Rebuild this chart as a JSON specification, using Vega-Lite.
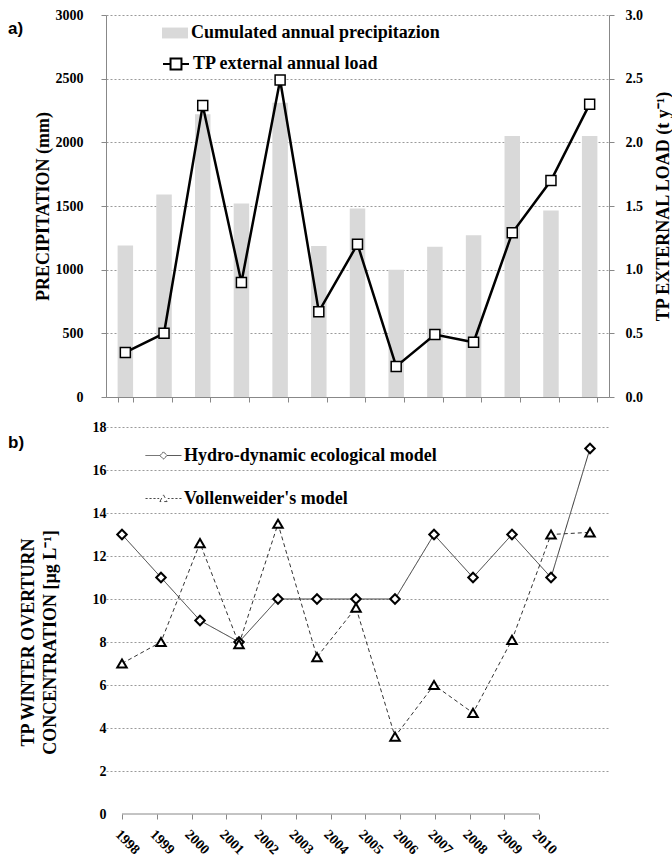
{
  "$schema": "https://vega.github.io/schema/vega-lite/v6.json",
  "padding": {"left": 8, "top": 8, "right": 0, "bottom": 0},
  "spacing": 16,
  "datasets": {
    "annual": [
      {"year": "1998", "precip": 1190, "load": 0.35},
      {"year": "1999", "precip": 1590, "load": 0.50},
      {"year": "2000", "precip": 2220, "load": 2.29},
      {"year": "2001", "precip": 1520, "load": 0.90},
      {"year": "2002", "precip": 2310, "load": 2.49},
      {"year": "2003", "precip": 1185, "load": 0.67},
      {"year": "2004", "precip": 1480, "load": 1.20},
      {"year": "2005", "precip": 1000, "load": 0.24},
      {"year": "2006", "precip": 1180, "load": 0.49},
      {"year": "2007", "precip": 1270, "load": 0.43},
      {"year": "2008", "precip": 2050, "load": 1.29},
      {"year": "2009", "precip": 1465, "load": 1.70},
      {"year": "2010", "precip": 2050, "load": 2.30}
    ],
    "winter": [
      {"year": 1998, "model": "Hydro-dynamic ecological model", "tp": 13},
      {"year": 1999, "model": "Hydro-dynamic ecological model", "tp": 11},
      {"year": 2000, "model": "Hydro-dynamic ecological model", "tp": 9},
      {"year": 2001, "model": "Hydro-dynamic ecological model", "tp": 8},
      {"year": 2002, "model": "Hydro-dynamic ecological model", "tp": 10},
      {"year": 2003, "model": "Hydro-dynamic ecological model", "tp": 10},
      {"year": 2004, "model": "Hydro-dynamic ecological model", "tp": 10},
      {"year": 2005, "model": "Hydro-dynamic ecological model", "tp": 10},
      {"year": 2006, "model": "Hydro-dynamic ecological model", "tp": 13},
      {"year": 2007, "model": "Hydro-dynamic ecological model", "tp": 11},
      {"year": 2008, "model": "Hydro-dynamic ecological model", "tp": 13},
      {"year": 2009, "model": "Hydro-dynamic ecological model", "tp": 11},
      {"year": 2010, "model": "Hydro-dynamic ecological model", "tp": 17},
      {"year": 1998, "model": "Vollenweider's model", "tp": 7.0},
      {"year": 1999, "model": "Vollenweider's model", "tp": 8.0},
      {"year": 2000, "model": "Vollenweider's model", "tp": 12.6},
      {"year": 2001, "model": "Vollenweider's model", "tp": 7.9},
      {"year": 2002, "model": "Vollenweider's model", "tp": 13.5},
      {"year": 2003, "model": "Vollenweider's model", "tp": 7.3},
      {"year": 2004, "model": "Vollenweider's model", "tp": 9.6},
      {"year": 2005, "model": "Vollenweider's model", "tp": 3.6},
      {"year": 2006, "model": "Vollenweider's model", "tp": 6.0},
      {"year": 2007, "model": "Vollenweider's model", "tp": 4.7},
      {"year": 2008, "model": "Vollenweider's model", "tp": 8.1},
      {"year": 2009, "model": "Vollenweider's model", "tp": 13.0},
      {"year": 2010, "model": "Vollenweider's model", "tp": 13.1}
    ]
  },
  "vconcat": [
    {
      "width": 503,
      "height": 382,
      "title": {"text": "a)", "anchor": "start", "frame": "group", "dx": -98, "dy": 30, "offset": 0, "font": "Liberation Sans", "fontSize": 17, "fontWeight": "bold", "color": "black"},
      "data": {"name": "annual"},
      "encoding": {
        "x": {
          "field": "year", "type": "ordinal",
          "scale": {"paddingInner": 0.6, "paddingOuter": 0.3},
          "axis": {"title": null, "labels": false, "tickBand": "extent", "tickSize": 5, "grid": false}
        }
      },
      "layer": [
        {
          "mark": {"type": "bar"},
          "encoding": {
            "y": {
              "field": "precip", "type": "quantitative",
              "scale": {"domain": [0, 3000], "nice": false},
              "axis": {"title": "PRECIPITATION (mm)", "format": "d", "values": [0, 500, 1000, 1500, 2000, 2500, 3000], "grid": true, "tickSize": 5, "labelPadding": 18, "titlePadding": 3}
            },
            "fill": {
              "datum": "Cumulated annual precipitazion",
              "scale": {"range": ["#d9d9d9"]},
              "legend": {
                "orient": "none", "legendX": 56, "legendY": 5, "title": null, "padding": 0,
                "symbolType": "M-1,-0.42H1V0.42H-1Z", "symbolSize": 676, "symbolStrokeWidth": 0,
                "labelFont": "Liberation Serif", "labelFontSize": 18, "labelFontWeight": "bold", "labelColor": "black", "labelOffset": 3, "labelLimit": 0
              }
            }
          }
        },
        {
          "layer": [
            {
              "mark": {"type": "line", "strokeWidth": 2.5},
              "encoding": {
                "y": {
                  "field": "load", "type": "quantitative",
                  "scale": {"domain": [0, 3], "nice": false},
                  "axis": {"orient": "right", "title": "TP EXTERNAL LOAD (t y⁻¹)", "titleAngle": 270, "format": ".1f", "values": [0, 0.5, 1, 1.5, 2, 2.5, 3], "grid": false, "tickSize": 5, "labelPadding": 11, "titlePadding": 30}
                },
                "stroke": {
                  "datum": "TP external annual load",
                  "scale": {"range": ["black"]},
                  "legend": {
                    "orient": "none", "legendX": 56, "legendY": 35, "title": null, "padding": 0,
                    "symbolType": "M-1,0H-0.42M0.42,0H1M-0.42,-0.42H0.42V0.42H-0.42Z", "symbolSize": 676,
                    "symbolStrokeWidth": 2, "symbolFillColor": "white",
                    "labelFont": "Liberation Serif", "labelFontSize": 18, "labelFontWeight": "bold", "labelColor": "black", "labelOffset": 3, "labelLimit": 0
                  }
                }
              }
            },
            {
              "mark": {"type": "point", "shape": "square", "size": 100, "filled": true, "fill": "white", "stroke": "black", "strokeWidth": 1.5, "opacity": 1},
              "encoding": {
                "y": {"field": "load", "type": "quantitative"}
              }
            }
          ]
        }
      ],
      "resolve": {"scale": {"y": "independent"}}
    },
    {
      "width": 503,
      "height": 387,
      "title": {"text": "b)", "anchor": "start", "frame": "group", "dx": -98, "dy": 32, "offset": 0, "font": "Liberation Sans", "fontSize": 17, "fontWeight": "bold", "color": "black"},
      "data": {"name": "winter"},
      "layer": [
        {
          "encoding": {
            "x": {
              "field": "year", "type": "quantitative",
              "scale": {"domain": [1997.59, 2010.487], "nice": false, "zero": false},
              "axis": null
            },
            "y": {
              "field": "tp", "type": "quantitative",
              "scale": {"domain": [0, 18], "nice": false},
              "axis": {
                "title": ["TP WINTER OVERTURN", "CONCENTRATION [µg L⁻¹]"],
                "titleLineHeight": 22,
                "titleY": 215,
                "values": [0, 2, 4, 6, 8, 10, 12, 14, 16, 18],
                "grid": true, "domain": false, "ticks": false, "labelPadding": 0, "titlePadding": 33,
                "gridOpacity": {"condition": {"test": "datum.value === 0", "value": 0}, "value": 1}
              }
            }
          },
          "layer": [
            {
              "mark": {"type": "point", "color": "black", "size": 1, "strokeWidth": 1},
              "encoding": {
                "shape": {
                  "field": "model", "type": "nominal",
                  "scale": {
                    "domain": ["Hydro-dynamic ecological model", "Vollenweider's model"],
                    "range": [
                      "M-1,0H-0.2M0.2,0H1M0,-0.2L0.2,0L0,0.2L-0.2,0Z",
                      "M-1,0H-0.88M-0.78,0H-0.66M-0.56,0H-0.44M-0.34,0H-0.24M0.24,0H0.34M0.44,0H0.56M0.66,0H0.78M0.88,0H1M-0.2,0.17L0,-0.2L0.2,0.17Z"
                    ]
                  },
                  "legend": {
                    "orient": "none", "legendX": 39, "legendY": 422, "title": null, "padding": 0, "rowPadding": 15,
                    "symbolSize": 1296, "symbolStrokeWidth": 1, "symbolStrokeColor": "black",
                    "labelFont": "Liberation Serif", "labelFontSize": 18, "labelFontWeight": "bold", "labelColor": "black", "labelOffset": 2, "labelLimit": 0
                  }
                }
              }
            },
            {
              "mark": {"type": "line", "strokeWidth": 1, "color": "#333"},
              "encoding": {
                "strokeDash": {
                  "field": "model", "type": "nominal",
                  "scale": {"domain": ["Hydro-dynamic ecological model", "Vollenweider's model"], "range": [[1, 0], [4, 3]]},
                  "legend": null
                }
              }
            },
            {
              "transform": [{"filter": "datum.model === 'Hydro-dynamic ecological model'"}],
              "mark": {"type": "point", "shape": "diamond", "filled": true, "fill": "white", "stroke": "black", "strokeWidth": 2, "size": 90, "opacity": 1}
            },
            {
              "transform": [{"filter": "datum.model === \"Vollenweider's model\""}],
              "mark": {"type": "point", "shape": "triangle-up", "filled": true, "fill": "white", "stroke": "black", "strokeWidth": 2, "size": 90, "opacity": 1}
            }
          ]
        },
        {
          "mark": {"type": "rule", "color": "#888", "strokeWidth": 1},
          "encoding": {
            "x": {
              "aggregate": "min", "field": "year", "type": "quantitative",
              "scale": {"domain": [1997.54, 2012.01], "nice": false, "zero": false},
              "axis": {"title": null, "values": [1998, 1999, 2000, 2001, 2002, 2003, 2004, 2005, 2006, 2007, 2008, 2009, 2010], "format": "d", "labelAngle": 45, "domain": false, "grid": false, "tickSize": 5, "labelPadding": 8}
            },
            "x2": {"aggregate": "max", "field": "year"},
            "y": {"datum": 0}
          }
        }
      ],
      "resolve": {"scale": {"x": "independent"}, "axis": {"x": "independent"}}
    }
  ],
  "config": {
    "view": {"stroke": null},
    "font": "Liberation Serif",
    "axis": {
      "labelFont": "Liberation Serif", "labelFontWeight": "bold", "labelFontSize": 14, "labelColor": "black",
      "titleFont": "Liberation Serif", "titleFontWeight": "bold", "titleFontSize": 18, "titleColor": "black",
      "domainColor": "#888", "tickColor": "#888", "gridColor": "#9a9a9a", "gridDash": [2, 2], "gridWidth": 1
    }
  }
}
